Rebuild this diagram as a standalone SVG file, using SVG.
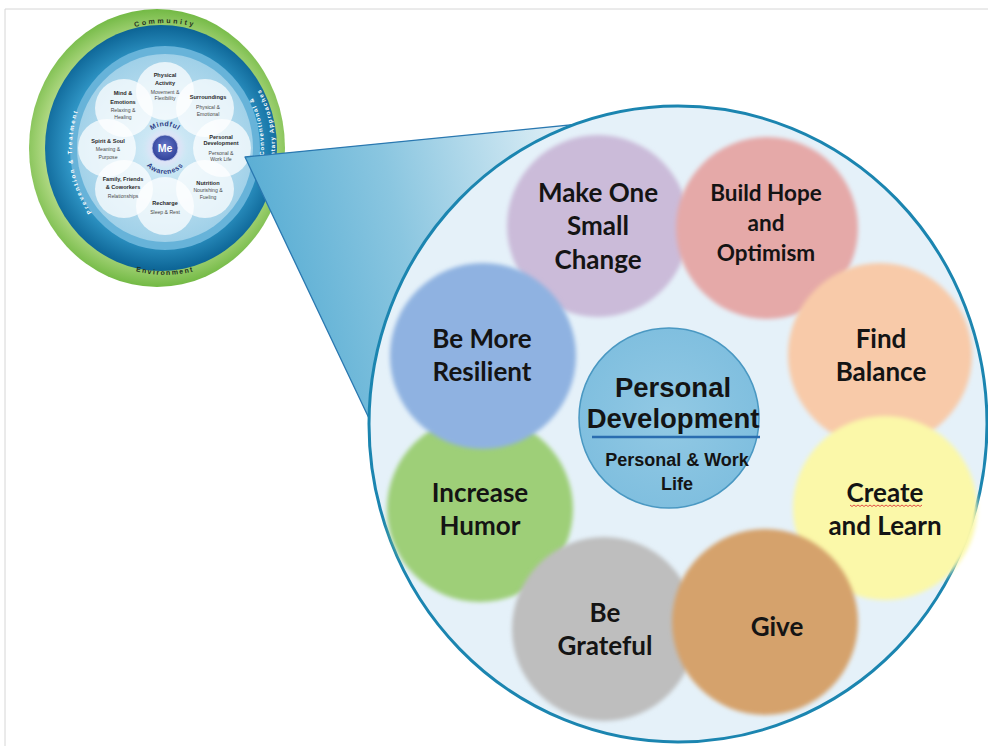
<svg xmlns="http://www.w3.org/2000/svg" width="988" height="746" viewBox="0 0 988 746">
<defs>
<style>
.lbl{font-family:Lato,'Liberation Sans',Arial,sans-serif;font-weight:700;font-size:26px;fill:#141414;text-anchor:middle}
.sm{font-size:22.5px}
.cen{font-family:'Liberation Sans',Arial,sans-serif;font-weight:700;fill:#141414;text-anchor:middle}
.pt{font-family:'Liberation Sans',Arial,sans-serif;font-weight:700;font-size:5.6px;fill:#2a2a2a;text-anchor:middle}
.ps{font-family:'Liberation Sans',Arial,sans-serif;font-size:5.1px;fill:#4a4a4a;text-anchor:middle}
.ring{font-family:'Liberation Sans',Arial,sans-serif;font-weight:700;font-size:6px;fill:#ffffff}
.gtxt{font-family:'Liberation Sans',Arial,sans-serif;font-weight:700;font-size:7px;fill:#1f2f1f}
.mind{font-family:'Liberation Sans',Arial,sans-serif;font-weight:700;font-size:7px;fill:#2d3c84;letter-spacing:0.5px}
.bub{filter:url(#soft)}
.petal{fill:#ffffff;fill-opacity:0.72}
</style>
<filter id="soft" x="-10%" y="-10%" width="120%" height="120%"><feGaussianBlur stdDeviation="2.2"/></filter>
<filter id="glow" x="-50%" y="-50%" width="200%" height="200%"><feGaussianBlur stdDeviation="2.5"/></filter>
<radialGradient id="gGreen" cx="157" cy="148" r="139" gradientUnits="userSpaceOnUse">
<stop offset="0.8" stop-color="#b3da86"/><stop offset="1" stop-color="#72b944"/></radialGradient>
<radialGradient id="gBlue" cx="161" cy="148" r="122" gradientUnits="userSpaceOnUse">
<stop offset="0.75" stop-color="#3198c8"/><stop offset="1" stop-color="#0d6596"/></radialGradient>
<radialGradient id="gLight" cx="165" cy="148" r="94" gradientUnits="userSpaceOnUse">
<stop offset="0" stop-color="#d9eef8"/><stop offset="1" stop-color="#9fd0e8"/></radialGradient>
<radialGradient id="gMe" cx="165" cy="146" r="14" gradientUnits="userSpaceOnUse">
<stop offset="0" stop-color="#6677c8"/><stop offset="1" stop-color="#33449c"/></radialGradient>
<linearGradient id="gWedge" x1="250" y1="300" x2="600" y2="220" gradientUnits="userSpaceOnUse">
<stop offset="0" stop-color="#52aad2"/><stop offset="0.45" stop-color="#8ac6e0"/><stop offset="1" stop-color="#e6f2f8"/></linearGradient>
<radialGradient id="gCenter" cx="669" cy="418" r="90" gradientUnits="userSpaceOnUse">
<stop offset="0" stop-color="#92c9e4"/><stop offset="1" stop-color="#80bfdf"/></radialGradient>
<path id="arcTop" d="M45,148 A120 125 0 0 1 285,148"/>
<path id="arcBot" d="M45,148 A120 127 0 0 0 285,148"/>
<path id="arcLeft" d="M160,250 A88 102 0 0 1 160,46"/>
<path id="arcR1" d="M162,257 A102 109 0 0 0 162,39"/>
<path id="arcR2" d="M162,267 A113 119 0 0 0 162,29"/>
<path id="arcMind" d="M143,148 A22 22 0 0 1 187,148"/>
<path id="arcAware" d="M140,148 A25 26 0 0 0 190,148"/>
</defs>
<rect width="988" height="746" fill="#ffffff"/>
<path d="M5,746 V9 H988" fill="none" stroke="#d6d6d6" stroke-width="1"/>

<g id="wheel">
<ellipse cx="157" cy="148" rx="128" ry="139" fill="url(#gGreen)"/>
<ellipse cx="161" cy="148" rx="116" ry="123" fill="url(#gBlue)"/>
<ellipse cx="165" cy="148" rx="95" ry="102" fill="#67b3d9"/>
<ellipse cx="165" cy="148" rx="88" ry="94" fill="url(#gLight)"/>
<text class="gtxt" letter-spacing="2.5"><textPath href="#arcTop" startOffset="50%" text-anchor="middle">Community</textPath></text>
<text class="gtxt" letter-spacing="1.5"><textPath href="#arcBot" startOffset="50%" text-anchor="middle">Environment</textPath></text>
<text class="ring" letter-spacing="1.8"><textPath href="#arcLeft" startOffset="45%" text-anchor="middle">Prevention &amp; Treatment</textPath></text>
<text class="ring" letter-spacing="1.2"><textPath href="#arcR1" startOffset="66%" text-anchor="end">Conventional &amp;</textPath></text>
<text class="ring" letter-spacing="1.2"><textPath href="#arcR2" startOffset="67%" text-anchor="end">Complementary Approaches</textPath></text>
<circle class="petal" cx="165" cy="91" r="29"/>
<circle class="petal" cx="205" cy="108" r="29"/>
<circle class="petal" cx="222" cy="148" r="29"/>
<circle class="petal" cx="205" cy="189" r="29"/>
<circle class="petal" cx="165" cy="206" r="29"/>
<circle class="petal" cx="124" cy="189" r="29"/>
<circle class="petal" cx="107" cy="148" r="29"/>
<circle class="petal" cx="124" cy="108" r="29"/>
<text class="pt" x="165" y="77">Physical</text><text class="pt" x="165" y="85">Activity</text>
<text class="ps" x="165" y="94">Movement &amp;</text><text class="ps" x="165" y="100">Flexibility</text>
<text class="pt" x="208" y="99">Surroundings</text>
<text class="ps" x="208" y="109">Physical &amp;</text><text class="ps" x="208" y="116">Emotional</text>
<text class="pt" x="221" y="139">Personal</text><text class="pt" x="221" y="145">Development</text>
<text class="ps" x="221" y="155">Personal &amp;</text><text class="ps" x="221" y="161">Work Life</text>
<text class="pt" x="208" y="185">Nutrition</text>
<text class="ps" x="208" y="192">Nourishing &amp;</text><text class="ps" x="208" y="199">Fueling</text>
<text class="pt" x="165" y="205">Recharge</text><text class="ps" x="165" y="214">Sleep &amp; Rest</text>
<text class="pt" x="123" y="181">Family, Friends</text><text class="pt" x="123" y="189">&amp; Coworkers</text>
<text class="ps" x="123" y="198">Relationships</text>
<text class="pt" x="108" y="143">Spirit &amp; Soul</text>
<text class="ps" x="108" y="151">Meaning &amp;</text><text class="ps" x="108" y="159">Purpose</text>
<text class="pt" x="123" y="95">Mind &amp;</text><text class="pt" x="123" y="104">Emotions</text>
<text class="ps" x="123" y="112">Relaxing &amp;</text><text class="ps" x="123" y="119">Healing</text>
<circle cx="165" cy="148" r="18" fill="#dde3f6" filter="url(#glow)"/>
<circle cx="165" cy="148" r="13" fill="url(#gMe)" stroke="#c9d1f0" stroke-width="0.8"/>
<text x="165" y="152" font-family="'Liberation Sans',Arial,sans-serif" font-weight="700" font-size="10.5" fill="#ffffff" text-anchor="middle">Me</text>
<text class="mind"><textPath href="#arcMind" startOffset="50%" text-anchor="middle">Mindful</textPath></text>
<text class="mind"><textPath href="#arcAware" startOffset="50%" text-anchor="middle">Awareness</textPath></text>
</g>

<g id="connectors">
<polygon points="245,157 640,118 660,300 385,452" fill="url(#gWedge)" stroke="#2a78b0" stroke-width="1.3" stroke-linejoin="round"/>
</g>

<g id="zoom-circle">
<ellipse cx="678" cy="424" rx="309" ry="318" fill="#e5f1f9" stroke="#1b85b0" stroke-width="3"/>
</g>

<g id="make-one-small-change">
<circle class="bub" cx="598" cy="226" r="91" fill="#cbbbd9"/>
<text class="lbl" x="598" y="202">Make One</text><text class="lbl" x="598" y="235">Small</text><text class="lbl" x="598" y="269">Change</text>
</g>
<g id="build-hope">
<circle class="bub" cx="767" cy="228" r="91" fill="#e5a9a8"/>
<text class="lbl sm" x="766" y="201">Build Hope</text><text class="lbl sm" x="766" y="231">and</text><text class="lbl sm" x="766" y="261">Optimism</text>
</g>
<g id="find-balance">
<circle class="bub" cx="880" cy="355" r="92" fill="#f8caa9"/>
<text class="lbl" x="881" y="348">Find</text><text class="lbl" x="881" y="381">Balance</text>
</g>
<g id="create-and-learn">
<circle class="bub" cx="885" cy="508" r="92" fill="#fbf8a9"/>
<text class="lbl" x="885" y="502">Create</text><text class="lbl" x="885" y="535">and Learn</text>
<path d="M850,505 l2,1.5 2,-1.5 2,1.5 2,-1.5 2,1.5 2,-1.5 2,1.5 2,-1.5 2,1.5 2,-1.5 2,1.5 2,-1.5 2,1.5 2,-1.5 2,1.5 2,-1.5 2,1.5 2,-1.5 2,1.5 2,-1.5 2,1.5 2,-1.5 2,1.5 2,-1.5 2,1.5 2,-1.5 2,1.5 2,-1.5 2,1.5 2,-1.5 2,1.5 2,-1.5 2,1.5 2,-1.5 2,1.5 2,-1.5" fill="none" stroke="#e03a3a" stroke-width="0.9"/>
</g>
<g id="increase-humor">
<circle class="bub" cx="480" cy="509" r="93" fill="#9ecf78"/>
<text class="lbl" x="480" y="502">Increase</text><text class="lbl" x="480" y="535">Humor</text>
</g>
<g id="be-grateful">
<circle class="bub" cx="604" cy="629" r="92" fill="#bebebe"/>
<text class="lbl" x="605" y="622">Be</text><text class="lbl" x="605" y="655">Grateful</text>
</g>
<g id="give">
<circle class="bub" cx="765" cy="622" r="93" fill="#d5a26c"/>
<text class="lbl" x="777" y="636">Give</text>
</g>
<g id="be-more-resilient">
<circle class="bub" cx="483" cy="356" r="93" fill="#8fb2e1"/>
<text class="lbl" x="482" y="348">Be More</text><text class="lbl" x="482" y="381">Resilient</text>
</g>
<g id="personal-development">
<circle cx="669" cy="418" r="90" fill="url(#gCenter)" stroke="#4a98c2" stroke-width="1.5"/>
<text class="cen" x="673" y="397" font-size="27.5">Personal</text>
<text class="cen" x="673" y="428" font-size="27.5">Development</text>
<line x1="592" y1="437" x2="760" y2="437" stroke="#2a6db0" stroke-width="2.5"/>
<text class="cen" x="677" y="466" font-size="18">Personal &amp; Work</text>
<text class="cen" x="677" y="490" font-size="18">Life</text>
</g>
</svg>
